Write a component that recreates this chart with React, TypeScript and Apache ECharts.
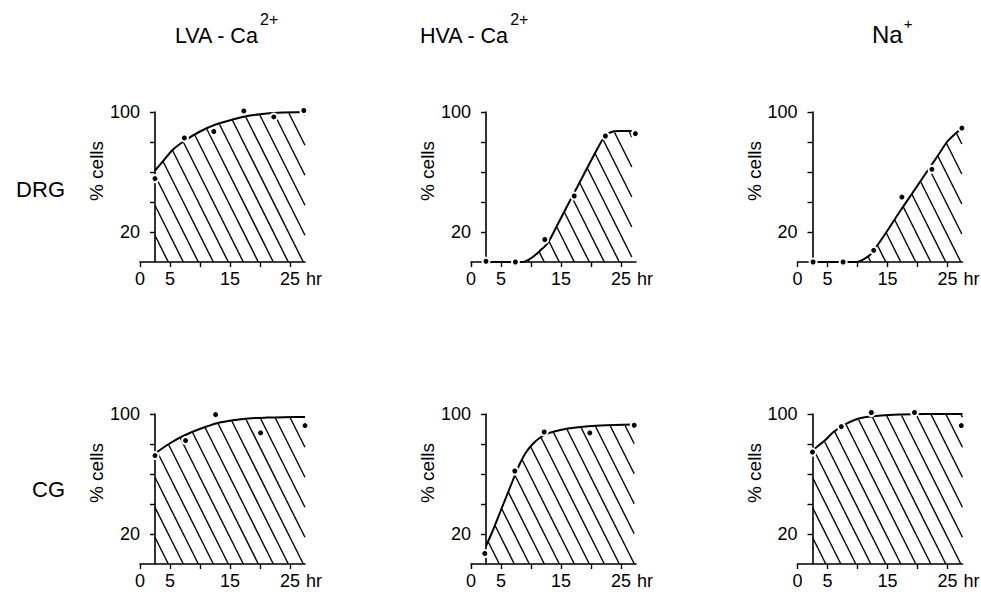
import React, { useEffect, useRef } from 'react';
import * as echarts from 'echarts';

const FONT = '"Liberation Sans", Arial, Helvetica, sans-serif';

// ---- axes ----
const xTickValues = [0, 5, 10, 15, 20, 25];
const xLabelValues = [0, 5, 15, 25];
const yTickValues = [20, 40, 60, 80, 100];
const yLabelValues = [20, 100];
const xMax = 27.5;
const yAxisAtHour = 2.5;

const columnTitles = ['LVA - Ca', 'HVA - Ca', 'Na'];
const columnTitleSup = ['2+', '2+', '+'];
const rowLabels = ['DRG', 'CG'];

// ---- DRG, LVA-Ca2+ ----
const lvaDrgTime = [2.5, 7.4, 12.3, 17.3, 22.3, 27.3];
const lvaDrgPct = [55.6, 82.7, 87, 100.7, 96.7, 101];
const lvaDrgFitTime = [2.5, 4, 5.5, 7.5, 10, 12.5, 15, 17.5, 20, 23, 27.5];
const lvaDrgFitPct = [61, 68, 75, 81, 87, 91.5, 94.5, 97, 98.5, 99.5, 100];

// ---- DRG, HVA-Ca2+ ----
const hvaDrgTime = [2.5, 7.4, 12.3, 17.2, 22.4, 27.4];
const hvaDrgPct = [0.5, 0, 15, 44, 84, 85.6];
const hvaDrgFitTime = [2.5, 8.5, 10, 11.5, 12.8, 14.5, 16.1, 17.8, 19.4, 21, 22, 23, 24.5, 26.8];
const hvaDrgFitPct = [0, 0, 2.5, 7.5, 12.7, 25.5, 37.8, 50.7, 63, 75, 82, 86, 87.3, 87.3];

// ---- DRG, Na+ ----
const naDrgTime = [2.6, 7.6, 12.7, 17.4, 22.4, 27.4];
const naDrgPct = [0, 0, 7.8, 43.3, 61.8, 89.3];
const naDrgFitTime = [2.5, 9.7, 11, 12.3, 13.3, 15, 17.2, 19.5, 21.7, 23.5, 25, 26.3, 27.4];
const naDrgFitPct = [0, 0, 1.8, 5.5, 11, 21, 34.5, 48, 61, 71.5, 80.5, 85.5, 89];

// ---- CG, LVA-Ca2+ ----
const lvaCgTime = [2.5, 7.6, 12.6, 20.1, 27.5];
const lvaCgPct = [72.3, 82.3, 99.6, 87.4, 92.3];
const lvaCgFitTime = [2.5, 3.5, 5, 7, 9, 11, 13, 15.5, 18, 21, 24, 27.5];
const lvaCgFitPct = [73.5, 76.5, 80.5, 85, 88.5, 91.5, 94, 95.8, 97, 97.6, 97.9, 98];

// ---- CG, HVA-Ca2+ ----
const hvaCgTime = [2.3, 7.3, 12.2, 19.8, 27.2];
const hvaCgPct = [7, 62, 88, 87.4, 92.5];
const hvaCgFitTime = [2.5, 3.5, 4.9, 6, 7.1, 8.1, 9.1, 10.3, 11.6, 13, 14.9, 17.5, 21.6, 27.2];
const hvaCgFitPct = [12, 21, 35, 46, 57, 66.5, 74, 80, 84.5, 87.3, 89.4, 91, 92.3, 93];

// ---- CG, Na+ ----
const naCgTime = [2.5, 7.3, 12.3, 19.5, 27.3];
const naCgPct = [74.6, 91.6, 101, 101, 92.3];
const naCgFitTime = [2.5, 3.5, 4.6, 6, 7.9, 9.5, 11.2, 14, 17, 21, 27.5];
const naCgFitPct = [75.5, 79, 82.5, 88, 93, 96, 97.8, 99, 99.6, 100, 100];

const panels = [
  { row: 0, col: 0, time: lvaDrgTime, pct: lvaDrgPct, fitTime: lvaDrgFitTime, fitPct: lvaDrgFitPct },
  { row: 0, col: 1, time: hvaDrgTime, pct: hvaDrgPct, fitTime: hvaDrgFitTime, fitPct: hvaDrgFitPct },
  { row: 0, col: 2, time: naDrgTime, pct: naDrgPct, fitTime: naDrgFitTime, fitPct: naDrgFitPct },
  { row: 1, col: 0, time: lvaCgTime, pct: lvaCgPct, fitTime: lvaCgFitTime, fitPct: lvaCgFitPct },
  { row: 1, col: 1, time: hvaCgTime, pct: hvaCgPct, fitTime: hvaCgFitTime, fitPct: hvaCgFitPct },
  { row: 1, col: 2, time: naCgTime, pct: naCgPct, fitTime: naCgFitTime, fitPct: naCgFitPct },
];

// ---- layout ----
const COL_LEFT = [140, 471, 797.5];
const ROW_TOP = [112, 414];
const GRID_W = 165;
const GRID_H = 150;
const HATCH_STEP = 15;
const HATCH_SLOPE = 2;
const HATCH_PHASE = 13.3;
const TITLE_X = [175, 420, 872];
const TITLE_Y = [11, 11, 16];
const TITLE_FONT = [21.5, 21.5, 24];
const TITLE_LINE_H = [49, 49, 36];
const TITLE_SUP_FONT = [16, 16, 15];

function buildHatch(api: any, fx: number[], fy: number[]) {
  const pts = fx.map((x, k) => api.coord([x, fy[k]]));
  const origin = api.coord([0, 0]);
  const base = origin[1];
  const left = origin[0];
  const xL = pts[0][0];
  const xR = pts[pts.length - 1][0];
  const curveAt = (px: number) => {
    for (let k = 0; k < pts.length - 1; k++) {
      const a = pts[k];
      const b = pts[k + 1];
      if (px >= a[0] && px <= b[0]) {
        const f = b[0] === a[0] ? 0 : (px - a[0]) / (b[0] - a[0]);
        return a[1] + f * (b[1] - a[1]);
      }
    }
    return base;
  };
  const children: any[] = [];
  let xb = left + HATCH_PHASE;
  while (xb > xL) xb -= HATCH_STEP;
  for (; xb <= xR + 100; xb += HATCH_STEP) {
    let tIn = -1;
    let tOut = -1;
    for (let t = 0; t <= 200; t += 0.25) {
      const x = xb - t / HATCH_SLOPE;
      const y = base - t;
      if (x > xR) continue;
      if (x < xL) break;
      const inside = y > curveAt(x) + 0.6;
      if (inside) {
        if (tIn < 0) tIn = t;
        tOut = t;
      } else if (tIn >= 0) break;
    }
    if (tIn >= 0 && tOut - tIn > 1) {
      children.push({
        type: 'line',
        shape: {
          x1: xb - tIn / HATCH_SLOPE,
          y1: base - tIn,
          x2: xb - tOut / HATCH_SLOPE,
          y2: base - tOut,
        },
        style: { stroke: '#000', lineWidth: 1.4 },
      });
    }
  }
  return { type: 'group', children };
}

export default function App() {
  const ref = useRef<HTMLDivElement>(null);
  useEffect(() => {
    document.body.style.margin = '0';
    const chart = echarts.init(ref.current!, null, { renderer: 'svg' });
    const axisOffset = -(yAxisAtHour / xMax) * GRID_W;
    const grids = panels.map((p) => ({
      left: COL_LEFT[p.col],
      top: ROW_TOP[p.row],
      width: GRID_W,
      height: GRID_H,
      containLabel: false,
    }));
    const xAxes = panels.map((p, i) => ({
      gridIndex: i,
      type: 'value',
      min: 0,
      max: xMax,
      axisLine: { show: true, onZero: false, lineStyle: { color: '#000', width: 1.6 } },
      axisTick: { show: true, customValues: xTickValues, length: 5, lineStyle: { color: '#000', width: 1.4 } },
      axisLabel: {
        customValues: xLabelValues,
        margin: 8,
        color: '#000',
        fontSize: 18,
        fontFamily: FONT,
      },
      splitLine: { show: false },
      name: 'hr',
      nameLocation: 'end',
      nameGap: 1,
      nameTextStyle: {
        color: '#000',
        fontSize: 18,
        fontFamily: FONT,
        align: 'left',
        verticalAlign: 'top',
        padding: [8, 0, 0, 0],
      },
    }));
    const yAxes = panels.map((p, i) => ({
      gridIndex: i,
      type: 'value',
      min: 0,
      max: 100,
      offset: axisOffset,
      axisLine: { show: true, onZero: false, lineStyle: { color: '#000', width: 1.6 } },
      axisTick: { show: true, customValues: yTickValues, length: 5, lineStyle: { color: '#000', width: 1.4 } },
      axisLabel: {
        customValues: yLabelValues,
        margin: 15,
        color: '#000',
        fontSize: 18,
        fontFamily: FONT,
      },
      splitLine: { show: false },
      name: '% cells',
      nameLocation: 'middle',
      nameRotate: 90,
      nameGap: 30,
      nameTextStyle: {
        color: '#000',
        fontSize: 19,
        fontFamily: FONT,
        padding: [0, 0, 0, 32],
      },
    }));
    const series: any[] = [];
    panels.forEach((p, i) => {
      series.push({
        type: 'custom',
        xAxisIndex: i,
        yAxisIndex: i,
        data: [[0, 0]],
        silent: true,
        z: 1,
        renderItem: (_params: any, api: any) => buildHatch(api, p.fitTime, p.fitPct),
      });
      series.push({
        type: 'line',
        xAxisIndex: i,
        yAxisIndex: i,
        data: p.fitTime.map((x, k) => [x, p.fitPct[k]]),
        smooth: 0.3,
        symbol: 'none',
        clip: false,
        silent: true,
        lineStyle: { color: '#000', width: 2 },
        z: 3,
      });
      series.push({
        type: 'scatter',
        xAxisIndex: i,
        yAxisIndex: i,
        data: p.time.map((x, k) => [x, p.pct[k]]),
        symbol: 'circle',
        symbolSize: 7,
        clip: false,
        silent: true,
        itemStyle: { color: '#000', borderColor: '#fff', borderWidth: 2, opacity: 1 },
        z: 4,
      });
    });

    const graphic: any[] = [];
    columnTitles.forEach((t, c) => {
      graphic.push({
        type: 'text',
        x: TITLE_X[c],
        y: TITLE_Y[c],
        style: {
          text: `{m|${t}}{s|${columnTitleSup[c]}}`,
          rich: {
            m: { fontSize: TITLE_FONT[c], lineHeight: TITLE_LINE_H[c], fontFamily: FONT, fill: '#000', verticalAlign: 'middle' },
            s: { fontSize: TITLE_SUP_FONT[c], lineHeight: 16, fontFamily: FONT, fill: '#000', verticalAlign: 'top', padding: [0, 0, 0, 1] },
          },
        },
      });
    });
    const rowLabelY = [189, 489];
    rowLabels.forEach((t, r) => {
      graphic.push({
        type: 'text',
        x: 65,
        y: rowLabelY[r],
        style: {
          text: t,
          fontSize: 22,
          fontFamily: FONT,
          fill: '#000',
          align: 'right',
          verticalAlign: 'middle',
        },
      });
    });

    chart.setOption({
      animation: false,
      backgroundColor: '#fff',
      grid: grids,
      xAxis: xAxes,
      yAxis: yAxes,
      series,
      graphic,
    });
    return () => chart.dispose();
  }, []);
  return (
    <div
      ref={ref}
      style={{ position: 'fixed', left: 0, top: 0, width: 981, height: 597, background: '#fff' }}
    />
  );
}
